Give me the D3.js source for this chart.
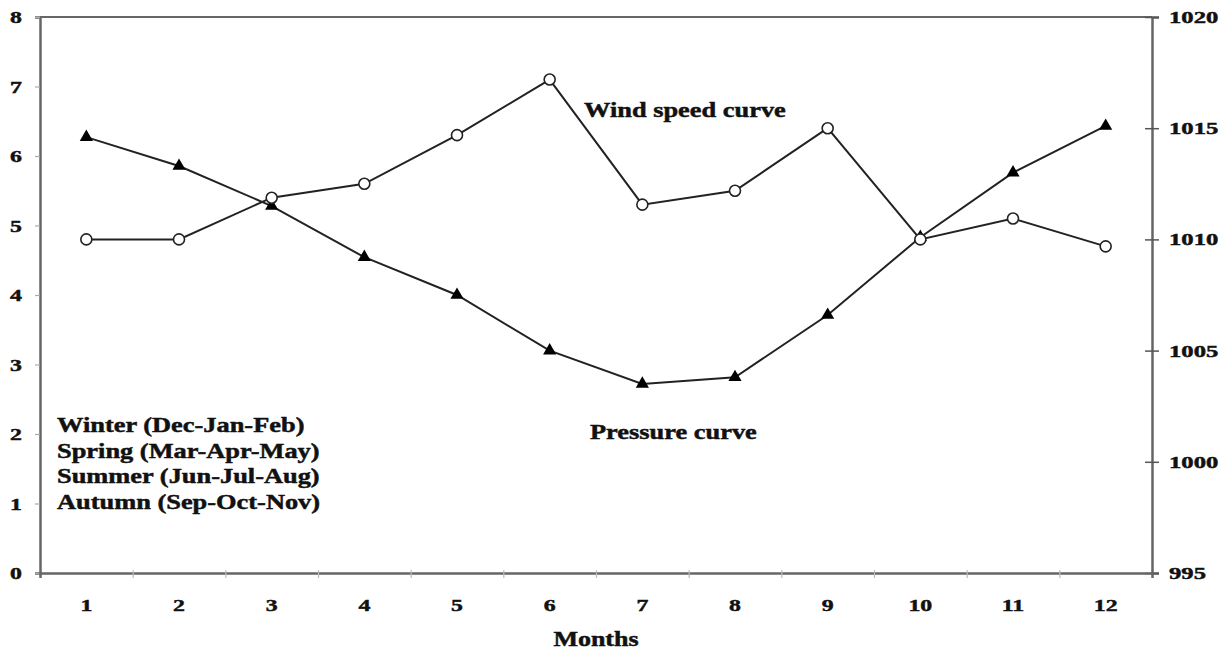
<!DOCTYPE html>
<html><head><meta charset="utf-8">
<script src="https://cdn.jsdelivr.net/npm/d3@7"></script>
<style>
html,body{margin:0;padding:0;background:#fff;}
svg{display:block;}
text{font-family:"Liberation Serif","Times New Roman",serif;font-weight:bold;fill:#111;stroke:#111;stroke-width:0.45px;}
</style></head>
<body>
<svg id="chart" width="1221" height="655"></svg>
<script>
const months = [1,2,3,4,5,6,7,8,9,10,11,12];
const windSpeed = [4.8,4.8,5.4,5.6,6.3,7.1,5.3,5.5,6.4,4.8,5.1,4.7];
const pressure = [1014.6,1013.3,1011.5,1009.2,1007.5,1005.0,1003.5,1003.8,1006.6,1010.1,1013.0,1015.1];
const leftTicks = [0,1,2,3,4,5,6,7,8];
const rightTicks = [995,1000,1005,1010,1015,1020];
const seasons = ["Winter (Dec-Jan-Feb)","Spring (Mar-Apr-May)","Summer (Jun-Jul-Aug)","Autumn (Sep-Oct-Nov)"];

const svg = d3.select("#chart");
const L = 40, R = 1152, T = 17, B = 573;

const x = d3.scaleLinear().domain([0.5, 12.5]).range([L, R]);
const yL = d3.scaleLinear().domain([0, 8]).range([B, T]);
const yR = d3.scaleLinear().domain([995, 1020]).range([B, T]);

function label(g, px, py, str, size, anchor, sx) {
  g.append("g").attr("transform", `translate(${px},${py}) scale(${sx || 1.3},1)`)
    .append("text").attr("text-anchor", anchor || "start")
    .attr("font-size", size).text(str);
}

const axisCol = "#666";
svg.append("line").attr("x1", L).attr("x2", R).attr("y1", T).attr("y2", T)
  .attr("stroke", axisCol).attr("stroke-width", 2.2);

// left axis
const gl = svg.append("g").attr("transform", `translate(${L},0)`)
  .call(d3.axisLeft(yL).tickValues(leftTicks).tickSize(5).tickFormat(""));
gl.select(".domain").attr("stroke", axisCol).attr("stroke-width", 2.5);
gl.selectAll(".tick line").attr("stroke", "#aaa").attr("stroke-width", 1.2);
leftTicks.forEach(t => label(svg, 16, yL(t) + 6, String(t), 17, "middle", 1.4));

// right axis
const gr = svg.append("g").attr("transform", `translate(${R},0)`)
  .call(d3.axisRight(yR).tickValues(rightTicks).tickSize(7).tickFormat(""));
gr.select(".domain").attr("stroke", axisCol).attr("stroke-width", 2.5);
gr.selectAll(".tick line").attr("stroke", "#555").attr("stroke-width", 1.5).attr("x1", -7);
rightTicks.forEach(t => label(svg, 1169, yR(t) + 6, String(t), 17, "start", 1.45));

// bottom axis
const gb = svg.append("g").attr("transform", `translate(0,${B})`)
  .call(d3.axisBottom(x).tickValues(d3.range(1.5, 12, 1)).tickSize(5).tickFormat(""));
gb.select(".domain").attr("stroke", axisCol).attr("stroke-width", 2.5);
gb.selectAll(".tick line").attr("stroke", "#bbb").attr("stroke-width", 1.2).attr("y1", -3);
months.forEach(m => label(svg, x(m), 611, String(m), 17, "middle", 1.4));
label(svg, 596, 646, "Months", 20, "middle", 1.3);

// lines
const lineW = d3.line().x((d, i) => x(months[i])).y(d => yL(d));
const lineP = d3.line().x((d, i) => x(months[i])).y(d => yR(d));
svg.append("path").datum(pressure).attr("d", lineP).attr("fill", "none")
  .attr("stroke", "#222").attr("stroke-width", 2);
svg.append("path").datum(windSpeed).attr("d", lineW).attr("fill", "none")
  .attr("stroke", "#222").attr("stroke-width", 2);

// markers
const tri = d3.symbol().type(d3.symbolTriangle).size(75);
svg.selectAll(".tri").data(pressure).enter().append("path")
  .attr("d", tri).attr("transform", (d, i) => `translate(${x(months[i])},${yR(d)})`)
  .attr("fill", "#000");
svg.selectAll(".circ").data(windSpeed).enter().append("circle")
  .attr("cx", (d, i) => x(months[i])).attr("cy", d => yL(d)).attr("r", 5.5)
  .attr("fill", "#fff").attr("stroke", "#222").attr("stroke-width", 1.6);

// annotations
label(svg, 584, 117, "Wind speed curve", 20, "start", 1.32);
label(svg, 590, 439, "Pressure curve", 20, "start", 1.32);
seasons.forEach((s, i) => label(svg, 57, 432 + i * 25.5, s, 20, "start", 1.32));
</script>
</body></html>
